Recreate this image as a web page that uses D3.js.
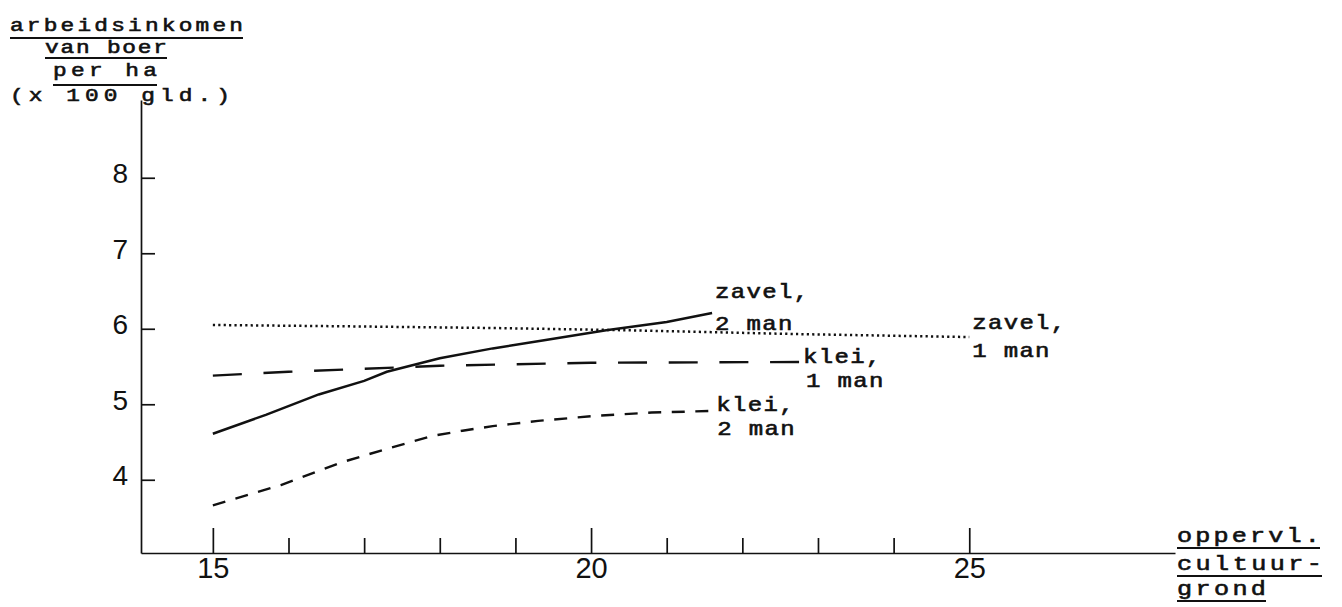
<!DOCTYPE html>
<html>
<head>
<meta charset="utf-8">
<script src="https://cdn.jsdelivr.net/npm/d3@7"></script>
<style>
  html, body { margin: 0; padding: 0; background: #fff; }
  svg { display: block; }
  .mono { font-family: "Liberation Mono", "DejaVu Sans Mono", monospace; fill: #111; stroke: #111; stroke-width: 0.6px; }
  .num { font-family: "Liberation Sans", Arial, sans-serif; fill: #111; }
</style>
</head>
<body>
<svg id="chart" width="1342" height="607"></svg>
<script>
// ---------- data ----------
const majorTicks = [15, 20, 25];
const minorTicks = [16, 17, 18, 19, 21, 22, 23, 24];
const yTicks = [4, 5, 6, 7, 8];

// zavel, 1 man (dotted)
const zavel1 = [[15, 6.05], [17, 6.03], [18.7, 6.01], [20.5, 5.98], [22.7, 5.93], [25, 5.89]];
// zavel, 2 man (solid)
const zavel2 = [[15, 4.61], [15.7, 4.86], [16.4, 5.13], [17, 5.31], [17.3, 5.43], [18, 5.61], [18.7, 5.74], [19.4, 5.85], [20.2, 5.98], [21, 6.09], [21.6, 6.21]];
// klei, 1 man (long dashes)
const klei1 = [[15, 5.38], [16, 5.43], [17, 5.47], [18, 5.51], [19, 5.53], [20, 5.55], [22.75, 5.56]];
// klei, 2 man (short dashes)
const klei2 = [[15, 3.66], [15.9, 3.93], [16.7, 4.23], [17.3, 4.41], [17.9, 4.58], [18.3, 4.65], [18.7, 4.71], [19.3, 4.78], [20.1, 4.85], [20.8, 4.89], [21.55, 4.91]];

const yTitle = ["arbeidsinkomen", "van boer", "per ha", "(x 100 gld.)"];
const xTitle = ["oppervl.", "cultuur-", "grond"];

// ---------- scales ----------
const svg = d3.select("#chart");
const x = d3.scaleLinear().domain([14.05, 27.72]).range([141, 1175]);
const y = d3.scaleLinear().domain([3.03, 9.03]).range([553, 100]);

const ink = "#111";
const SX = 1.2; // horizontal widening of the typewriter text

// axes
const gx = svg.append("g").attr("transform", `translate(0,${y(3.03)})`);
gx.call(d3.axisBottom(x).tickValues(majorTicks).tickSizeInner(-25).tickSizeOuter(0).tickPadding(4).tickFormat(d3.format("d")));
const gxm = svg.append("g").attr("transform", `translate(0,${y(3.03)})`);
gxm.call(d3.axisBottom(x).tickValues(minorTicks).tickSizeInner(-15).tickSizeOuter(0).tickFormat(""));
gxm.select(".domain").remove();

const gy = svg.append("g").attr("transform", `translate(${x(14.05)},0)`);
gy.call(d3.axisLeft(y).tickValues(yTicks).tickSizeInner(-14).tickSizeOuter(0).tickPadding(13).tickFormat(d3.format("d")));

svg.selectAll(".domain, .tick line").attr("stroke", ink).attr("stroke-width", 1.7);
gx.selectAll(".tick text").attr("class", "num").attr("font-size", 29);
gy.selectAll(".tick text").attr("class", "num").attr("font-size", 28).attr("dy", "0.17em");

// lines
const line = d3.line().x(d => x(d[0])).y(d => y(d[1]));
const series = [
  { data: zavel1, dash: [2.2, 3.2], w: 2.5, fit: false },
  { data: zavel2, dash: null, w: 2.5, fit: false },
  { data: klei1, dash: [29, 24], w: 2.4, fit: true },
  { data: klei2, dash: [13, 11], w: 2.4, fit: true }
];
series.forEach(s => {
  const p = svg.append("path").datum(s.data)
    .attr("d", line)
    .attr("fill", "none")
    .attr("stroke", ink)
    .attr("stroke-width", s.w);
  if (s.dash) {
    let [a, g] = s.dash;
    if (s.fit) {
      const L = p.node().getTotalLength();
      const n = Math.max(1, Math.round((L + g) / (a + g)));
      g = n > 1 ? (L - n * a) / (n - 1) : g;
    }
    p.attr("stroke-dasharray", `${a},${g}`);
  }
});

// typewriter text helper (widened horizontally)
function mono(tx, ty, t, size, width, ls) {
  const el = svg.append("text").attr("class", "mono")
    .attr("transform", `translate(${tx},${ty}) scale(${SX},1)`)
    .attr("font-size", size).text(t);
  if (width) el.attr("textLength", width / SX).attr("lengthAdjust", "spacing");
  if (ls) el.attr("letter-spacing", ls);
  return el;
}

// line labels (placed relative to each line's end point)
function endLabel(data, lines, dx, dys) {
  const e = data[data.length - 1];
  lines.forEach((t, i) => mono(x(e[0]) + dx[i], y(e[1]) + dys[i], t, 20, null, 1.1));
}
endLabel(zavel2, ["zavel,", "2 man"], [3, 3], [-15, 17]);
endLabel(zavel1, ["zavel,", "1 man"], [3, 3], [-8, 20]);
endLabel(klei1, ["klei,", "1 man"], [4, 7], [1, 25]);
endLabel(klei2, ["klei,", "2 man"], [8, 9], [0, 24]);

// y title (typewriter, underlined)
const yt = [
  { t: yTitle[0], x0: 10, x1: 243, base: 31, ul: 38 },
  { t: yTitle[1], x0: 45, x1: 167, base: 53, ul: 58 },
  { t: yTitle[2], x0: 53, x1: 157, base: 76, ul: 85 },
  { t: yTitle[3], x0: 10, x1: 230, base: 101, ul: null }
];
yt.forEach(r => {
  mono(r.x0, r.base, r.t, 19, r.x1 - r.x0);
  if (r.ul) svg.append("line").attr("x1", r.x0).attr("x2", r.x1)
    .attr("y1", r.ul).attr("y2", r.ul).attr("stroke", ink).attr("stroke-width", 2);
});

// x title
const xt = [
  { t: xTitle[0], x0: 1177, x1: 1320, base: 542, ul: 548 },
  { t: xTitle[1], x0: 1177, x1: 1322, base: 570, ul: 576 },
  { t: xTitle[2], x0: 1177, x1: 1266, base: 595, ul: 601 }
];
xt.forEach(r => {
  mono(r.x0, r.base, r.t, 21, r.x1 - r.x0);
  svg.append("line").attr("x1", r.x0).attr("x2", r.x1)
    .attr("y1", r.ul).attr("y2", r.ul).attr("stroke", ink).attr("stroke-width", 2);
});
</script>
</body>
</html>
